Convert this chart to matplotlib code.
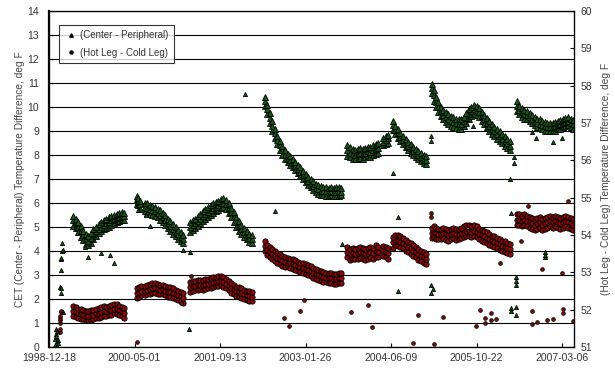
import numpy as np
import matplotlib

matplotlib.use("Agg")
import matplotlib.pyplot as plt
import matplotlib.dates as mdates

plt.rcParams["font.family"] = ["Liberation Sans", "DejaVu Sans"]

# ---------------------------------------------------------------------------
# Data.  x = days after 1998-12-18.
# CET (Center - Peripheral) on the left axis, Hot-Cold on the right axis.
# Each band is given as lower edge / middle / upper edge of the point cloud.
# ---------------------------------------------------------------------------
START = np.datetime64("1998-12-18")
X_SPAN = 3070
TICK_DAYS = [0, 500, 1000, 1500, 2000, 2500, 3000]

cet_days = [
    # 1999 - 2000
    140, 155, 170, 185, 200, 215, 230, 245, 260, 275, 290, 305, 320, 335, 350,
    365, 380, 395, 410, 425, 440,
    # 2000-05 .. 2000-11
    512, 520, 530, 560, 575, 590, 605, 620, 635, 650, 665, 680, 695, 710, 725,
    740, 755, 770, 785,
    # 2001
    825, 840, 855, 870, 885, 900, 915, 930, 945, 960, 975, 990, 1005, 1020,
    1035, 1050, 1065, 1080, 1095, 1110, 1125, 1140, 1155, 1170, 1185,
    # 2002 - 2003 decay
    1263, 1275, 1290, 1305, 1320, 1335, 1350, 1365, 1380, 1395, 1410, 1425,
    1440, 1455, 1470, 1485, 1500, 1515, 1530, 1545, 1560, 1575, 1590, 1605,
    1620, 1635, 1650, 1665, 1680, 1695, 1710,
    # 2003-11 .. 2004-06
    1745, 1760, 1775, 1790, 1805, 1820, 1835, 1850, 1865, 1880, 1895, 1910,
    1925, 1955, 1968, 1982,
    # 2004-07 .. 2005-01
    2012, 2025, 2040, 2055, 2070, 2085, 2100, 2115, 2130, 2145, 2160, 2175,
    2190, 2205,
    # 2005 - 2006
    2238, 2250, 2262, 2275, 2290, 2305, 2320, 2335, 2350, 2365, 2380, 2395,
    2410, 2425, 2440, 2455, 2470, 2485, 2500, 2515, 2530, 2545, 2560, 2575,
    2590, 2605, 2620, 2635, 2650, 2665, 2680, 2695,
    # 2006 - 2007
    2737, 2750, 2765, 2780, 2795, 2810, 2825, 2840, 2855, 2870, 2885, 2900,
    2915, 2930, 2945, 2960, 2975, 2990, 3005, 3020, 3035, 3050, 3064,
]
cet_mid = [
    5.30, 5.15, 5.00, 4.85, 4.65, 4.50, 4.42, 4.55, 4.70, 4.82, 4.92, 5.02, 5.08, 5.15, 5.20,
    5.28, 5.32, 5.38, 5.42, 5.45, 5.45,
    6.15, 6.05, 5.95, 5.85, 5.80, 5.75, 5.70, 5.65, 5.58, 5.50, 5.40, 5.28, 5.15, 5.05, 4.92,
    4.80, 4.70, 4.60, 4.48,
    5.00, 5.08, 5.15, 5.25, 5.35, 5.45, 5.55, 5.62, 5.70, 5.78, 5.85, 5.92, 5.98, 6.02,
    5.95, 5.80, 5.62, 5.42, 5.22, 5.05, 4.90, 4.78, 4.65, 4.55, 4.48,
    10.25, 9.90, 9.55, 9.20, 8.90, 8.62, 8.40, 8.20, 8.02, 7.88, 7.78, 7.68,
    7.55, 7.42, 7.30, 7.18, 7.05, 6.92, 6.82, 6.72, 6.62, 6.58, 6.52, 6.50,
    6.48, 6.45, 6.48, 6.46, 6.45, 6.48, 6.46,
    8.20, 8.10, 8.05, 8.00, 8.05, 8.08, 8.05, 8.10, 8.15, 8.12, 8.20, 8.25,
    8.30, 8.55, 8.62, 8.70,
    9.25, 9.05, 8.90, 8.75, 8.62, 8.50, 8.38, 8.28, 8.18, 8.08, 8.00, 7.92,
    7.85, 7.78,
    10.80, 10.50, 10.22, 10.00, 9.82, 9.68, 9.58, 9.50, 9.42, 9.38, 9.32, 9.28,
    9.30, 9.40, 9.55, 9.70, 9.82, 9.90, 9.88, 9.78, 9.62, 9.48, 9.35, 9.20,
    9.08, 8.98, 8.88, 8.78, 8.68, 8.58, 8.48, 8.38,
    10.05, 9.88, 9.78, 9.70, 9.65, 9.58, 9.50, 9.42, 9.35, 9.30, 9.25, 9.20,
    9.18, 9.15, 9.18, 9.20, 9.25, 9.28, 9.32, 9.38, 9.42, 9.35, 9.28,
]
cet_lo = [
    5.05, 4.95, 4.80, 4.60, 4.45, 4.30, 4.25, 4.35, 4.50, 4.62, 4.75, 4.85, 4.90, 4.95, 5.00,
    5.10, 5.15, 5.20, 5.25, 5.28, 5.30,
    5.95, 5.90, 5.75, 5.65, 5.60, 5.55, 5.52, 5.45, 5.40, 5.30, 5.20, 5.10, 4.95, 4.85, 4.72,
    4.62, 4.52, 4.42, 4.32,
    4.80, 4.88, 4.95, 5.05, 5.15, 5.25, 5.35, 5.42, 5.50, 5.58, 5.65, 5.72, 5.78, 5.82,
    5.75, 5.60, 5.42, 5.22, 5.02, 4.85, 4.70, 4.60, 4.48, 4.38, 4.32,
    10.05, 9.70, 9.35, 9.00, 8.72, 8.45, 8.22, 8.02, 7.85, 7.72, 7.60, 7.50,
    7.38, 7.25, 7.12, 7.00, 6.88, 6.75, 6.65, 6.55, 6.45, 6.38, 6.35, 6.32,
    6.28, 6.30, 6.32, 6.28, 6.30, 6.30, 6.32,
    7.95, 7.90, 7.85, 7.82, 7.85, 7.88, 7.85, 7.90, 7.95, 7.92, 8.00, 8.05,
    8.10, 8.40, 8.45, 8.52,
    9.05, 8.88, 8.72, 8.58, 8.45, 8.32, 8.20, 8.10, 8.00, 7.90, 7.82, 7.75,
    7.68, 7.62,
    10.60, 10.25, 10.00, 9.80, 9.62, 9.48, 9.38, 9.30, 9.22, 9.18, 9.12, 9.08,
    9.10, 9.20, 9.35, 9.50, 9.62, 9.70, 9.68, 9.58, 9.42, 9.28, 9.15, 9.00,
    8.88, 8.78, 8.68, 8.58, 8.48, 8.38, 8.28, 8.20,
    9.85, 9.70, 9.60, 9.52, 9.48, 9.40, 9.32, 9.25, 9.18, 9.12, 9.08, 9.02,
    9.00, 8.98, 9.00, 9.02, 9.08, 9.10, 9.15, 9.20, 9.25, 9.18, 9.10,
]
cet_hi = [
    5.45, 5.35, 5.20, 5.05, 4.85, 4.70, 4.62, 4.75, 4.90, 5.02, 5.12, 5.20, 5.28, 5.35, 5.40,
    5.45, 5.50, 5.55, 5.60, 5.62, 5.60,
    6.30, 6.22, 6.10, 6.02, 5.98, 5.92, 5.88, 5.82, 5.75, 5.70, 5.60, 5.48, 5.35, 5.25, 5.12,
    5.00, 4.88, 4.78, 4.65,
    5.20, 5.28, 5.35, 5.45, 5.55, 5.65, 5.75, 5.82, 5.90, 5.98, 6.05, 6.10, 6.15, 6.20,
    6.12, 5.98, 5.80, 5.62, 5.42, 5.25, 5.10, 4.95, 4.82, 4.72, 4.65,
    10.40, 10.10, 9.75, 9.40, 9.08, 8.80, 8.58, 8.38, 8.20, 8.05, 7.95, 7.85,
    7.72, 7.60, 7.48, 7.35, 7.22, 7.10, 7.00, 6.90, 6.80, 6.75, 6.70, 6.68,
    6.65, 6.62, 6.65, 6.62, 6.65, 6.65, 6.62,
    8.40, 8.32, 8.25, 8.20, 8.25, 8.28, 8.25, 8.30, 8.35, 8.32, 8.40, 8.45,
    8.48, 8.72, 8.78, 8.85,
    9.40, 9.22, 9.08, 8.92, 8.80, 8.68, 8.55, 8.45, 8.35, 8.25, 8.18, 8.10,
    8.02, 7.95,
    10.95, 10.70, 10.42, 10.20, 10.02, 9.88, 9.78, 9.70, 9.62, 9.58, 9.52, 9.48,
    9.50, 9.60, 9.75, 9.90, 10.00, 10.08, 10.05, 9.95, 9.80, 9.68, 9.55, 9.40,
    9.28, 9.18, 9.08, 8.98, 8.88, 8.78, 8.68, 8.58,
    10.25, 10.05, 9.95, 9.88, 9.82, 9.75, 9.68, 9.60, 9.52, 9.48, 9.42, 9.38,
    9.35, 9.32, 9.35, 9.38, 9.42, 9.45, 9.50, 9.55, 9.60, 9.52, 9.45,
]

# scattered CET points (start-up, outages)
cet_out_days = [35, 37, 39, 41, 43, 45, 47, 49, 51, 53, 66, 68, 70, 70, 72, 73,
                76, 78, 80, 82, 210, 228, 304, 357, 380, 520, 567, 590, 784,
                825, 819, 1146, 1322, 1713, 2012, 2041, 2041, 2234, 2236, 2234,
                2234, 2246, 2480, 2696, 2702, 2720, 2722, 2731, 2731, 2731,
                2731, 2731, 2702, 2702, 2900, 2900, 2902, 2825, 2848, 2945, 2998]
cet_out_vals = [0.10, 0.35, 0.55, 0.75, 0.45, 0.25, 0.65, 0.05, 0.30, 0.15, 2.50,
                2.45, 2.25, 3.20, 3.65, 3.70, 4.00, 4.35, 1.45, 4.05, 4.17, 3.75,
                3.90, 3.83, 3.50, 5.70, 5.50, 5.05, 4.05, 3.95, 0.75, 10.55,
                5.67, 4.30, 7.25, 5.40, 2.35, 8.60, 8.80, 2.60, 2.25, 2.40,
                9.20, 7.00, 5.58, 7.90, 7.65, 2.60, 2.75, 2.90, 1.65, 1.33,
                1.62, 1.48, 3.75, 3.85, 3.95, 8.95, 8.72, 8.55, 8.72]

hot_days = [
    140, 155, 170, 185, 200, 215, 230, 245, 260, 275, 290, 305, 320, 335, 350,
    365, 380, 395, 410, 425, 440,
    512, 525, 540, 560, 575, 590, 605, 620, 635, 650, 665, 680, 695, 710, 725,
    740, 755, 770, 785,
    825, 840, 855, 870, 885, 900, 915, 930, 945, 960, 975, 990, 1005, 1020,
    1035, 1050, 1065, 1080, 1095, 1110, 1125, 1140, 1155, 1170, 1185,
    1263, 1275, 1290, 1305, 1320, 1335, 1350, 1365, 1380, 1395, 1410, 1425,
    1440, 1455, 1470, 1485, 1500, 1515, 1530, 1545, 1560, 1575, 1590, 1605,
    1620, 1635, 1650, 1665, 1680, 1695, 1710,
    1745, 1760, 1775, 1790, 1805, 1820, 1835, 1850, 1865, 1880, 1895, 1910,
    1925, 1955, 1968, 1982,
    2012, 2025, 2040, 2055, 2070, 2085, 2100, 2115, 2130, 2145, 2160, 2175,
    2190, 2205,
    2238, 2250, 2262, 2275, 2290, 2305, 2320, 2335, 2350, 2365, 2380, 2395,
    2410, 2425, 2440, 2455, 2470, 2485, 2500, 2515, 2530, 2545, 2560, 2575,
    2590, 2605, 2620, 2635, 2650, 2665, 2680, 2695,
    2737, 2750, 2765, 2780, 2795, 2810, 2825, 2840, 2855, 2870, 2885, 2900,
    2915, 2930, 2945, 2960, 2975, 2990, 3005, 3020, 3035, 3050, 3064,
]
hot_mid = [
    51.96, 51.93, 51.90, 51.89, 51.87, 51.84, 51.84, 51.85, 51.87, 51.90, 51.91,
    51.93, 51.96, 51.96, 51.98, 52.00, 52.03, 52.02, 51.98, 51.95, 51.91,
    52.45, 52.48, 52.51, 52.51, 52.54, 52.56, 52.58, 52.58, 52.56, 52.54, 52.54,
    52.51, 52.48, 52.47, 52.45, 52.41, 52.38, 52.35, 52.32,
    52.61, 52.64, 52.64, 52.66, 52.67, 52.67, 52.68, 52.70, 52.72, 52.74, 52.75,
    52.77, 52.77, 52.75, 52.70, 52.64, 52.58, 52.53, 52.49, 52.47, 52.45, 52.41,
    52.38, 52.36, 52.34,
    53.70, 53.60, 53.54, 53.49, 53.44, 53.39, 53.35, 53.31, 53.28, 53.26, 53.24,
    53.22, 53.19, 53.16, 53.13, 53.11, 53.09, 53.06, 53.03, 52.99, 52.96, 52.93,
    52.90, 52.88, 52.86, 52.85, 52.84, 52.83, 52.83, 52.84, 52.85,
    53.54, 53.48, 53.51, 53.48, 53.51, 53.54, 53.51, 53.48, 53.51, 53.54, 53.51,
    53.57, 53.54, 53.57, 53.54, 53.51,
    53.80, 53.86, 53.85, 53.82, 53.78, 53.72, 53.68, 53.64, 53.58, 53.54, 53.48,
    53.44, 53.40, 53.36,
    54.05, 54.09, 54.05, 54.02, 54.02, 54.05, 54.02, 53.99, 54.02, 54.05, 54.02,
    54.02, 54.05, 54.09, 54.12, 54.12, 54.09, 54.12, 54.09, 54.03, 53.99, 53.96,
    53.93, 53.88, 53.84, 53.82, 53.78, 53.75, 53.71, 53.69, 53.65, 53.62,
    54.41, 54.41, 54.38, 54.41, 54.38, 54.34, 54.31, 54.28, 54.31, 54.34, 54.28,
    54.31, 54.34, 54.38, 54.34, 54.38, 54.34, 54.31, 54.34, 54.38, 54.34, 54.31,
    54.28,
]
hot_lo = [
    51.83, 51.80, 51.78, 51.76, 51.74, 51.71, 51.72, 51.73, 51.75, 51.77, 51.79,
    51.81, 51.83, 51.84, 51.85, 51.87, 51.90, 51.89, 51.85, 51.82, 51.78,
    52.32, 52.35, 52.38, 52.38, 52.41, 52.43, 52.45, 52.45, 52.43, 52.41, 52.41,
    52.38, 52.35, 52.34, 52.32, 52.28, 52.25, 52.22, 52.19,
    52.48, 52.51, 52.52, 52.53, 52.55, 52.54, 52.56, 52.58, 52.59, 52.61, 52.63,
    52.64, 52.65, 52.62, 52.58, 52.52, 52.45, 52.41, 52.37, 52.34, 52.32, 52.29,
    52.26, 52.24, 52.22,
    53.57, 53.47, 53.41, 53.36, 53.31, 53.26, 53.22, 53.18, 53.15, 53.13, 53.11,
    53.09, 53.06, 53.03, 53.00, 52.98, 52.96, 52.93, 52.90, 52.86, 52.83, 52.80,
    52.77, 52.75, 52.73, 52.72, 52.71, 52.70, 52.70, 52.71, 52.72,
    53.40, 53.34, 53.36, 53.35, 53.37, 53.39, 53.36, 53.34, 53.37, 53.40, 53.36,
    53.42, 53.40, 53.43, 53.40, 53.37,
    53.66, 53.72, 53.71, 53.68, 53.64, 53.58, 53.54, 53.50, 53.44, 53.40, 53.34,
    53.30, 53.26, 53.22,
    53.91, 53.95, 53.90, 53.88, 53.88, 53.91, 53.87, 53.85, 53.88, 53.91, 53.87,
    53.88, 53.91, 53.95, 53.98, 53.97, 53.95, 53.98, 53.94, 53.89, 53.85, 53.82,
    53.79, 53.74, 53.70, 53.68, 53.64, 53.61, 53.57, 53.55, 53.51, 53.48,
    54.27, 54.26, 54.24, 54.27, 54.24, 54.20, 54.17, 54.14, 54.17, 54.20, 54.14,
    54.17, 54.20, 54.24, 54.20, 54.24, 54.20, 54.17, 54.20, 54.24, 54.20, 54.17,
    54.14,
]
hot_hi = [
    52.09, 52.06, 52.03, 52.02, 52.00, 51.97, 51.96, 51.98, 52.00, 52.03, 52.04,
    52.06, 52.09, 52.08, 52.11, 52.13, 52.16, 52.15, 52.11, 52.08, 52.04,
    52.58, 52.61, 52.64, 52.64, 52.67, 52.69, 52.71, 52.71, 52.69, 52.67, 52.67,
    52.64, 52.61, 52.60, 52.58, 52.54, 52.51, 52.48, 52.45,
    52.74, 52.77, 52.77, 52.79, 52.80, 52.80, 52.81, 52.83, 52.85, 52.87, 52.88,
    52.90, 52.90, 52.88, 52.83, 52.77, 52.71, 52.66, 52.62, 52.60, 52.58, 52.54,
    52.51, 52.49, 52.47,
    53.83, 53.73, 53.67, 53.62, 53.57, 53.52, 53.48, 53.44, 53.41, 53.39, 53.37,
    53.35, 53.32, 53.29, 53.26, 53.24, 53.22, 53.19, 53.16, 53.12, 53.09, 53.06,
    53.03, 53.01, 52.99, 52.98, 52.97, 52.96, 52.96, 52.97, 52.98,
    53.68, 53.62, 53.66, 53.62, 53.65, 53.69, 53.66, 53.62, 53.65, 53.68, 53.66,
    53.72, 53.68, 53.70, 53.68, 53.65,
    53.94, 54.00, 53.99, 53.96, 53.92, 53.86, 53.82, 53.78, 53.72, 53.68, 53.62,
    53.58, 53.54, 53.50,
    54.19, 54.23, 54.19, 54.16, 54.15, 54.19, 54.16, 54.13, 54.16, 54.19, 54.16,
    54.15, 54.19, 54.23, 54.26, 54.26, 54.23, 54.26, 54.23, 54.17, 54.13, 54.10,
    54.07, 54.02, 53.98, 53.96, 53.92, 53.89, 53.85, 53.83, 53.79, 53.76,
    54.55, 54.56, 54.52, 54.55, 54.52, 54.48, 54.45, 54.42, 54.45, 54.48, 54.42,
    54.45, 54.48, 54.52, 54.48, 54.52, 54.48, 54.45, 54.48, 54.52, 54.48, 54.45,
    54.42,
]

hot_out_days = [61, 62, 63, 64, 65, 66, 67, 68, 70, 515, 774, 832, 1374, 1404,
                1468, 1491, 1766, 1866, 1889, 2158, 2304, 2129, 2251, 2497,
                2520, 2550, 2550, 2585, 2585, 2614, 2825, 2825, 2854, 2912,
                2947, 3006, 3006, 3064, 2637, 2883, 3000, 2801, 2760, 3035,
                2234, 2234]
hot_out_vals = [51.40, 51.39, 51.48, 51.64, 51.71, 51.77, 51.84, 51.93, 51.96,
                51.13, 52.18, 52.90, 51.77, 51.55, 51.96, 52.25, 51.93, 52.13,
                51.53, 51.86, 51.80, 51.11, 51.08, 51.57, 51.99, 51.64, 51.77,
                51.71, 51.90, 51.75, 51.96, 51.62, 51.67, 51.71, 51.74, 51.90,
                52.03, 51.69, 53.25, 53.09, 52.98, 54.79, 53.83, 54.92, 54.47,
                54.60]


def to_dates(days):
    return START + np.array(days).astype("timedelta64[D]")


def tri(size):
    return dict(marker="^", linestyle="none", markersize=size,
                markerfacecolor="#175817", markeredgecolor="black",
                markeredgewidth=0.6)


def dot(size):
    return dict(marker="o", linestyle="none", markersize=size,
                markerfacecolor="#8a0a0a", markeredgecolor="black",
                markeredgewidth=0.6)


fig = plt.figure(figsize=(6.15, 3.68), dpi=100)
ax = fig.add_axes([49 / 615, 21 / 368, 525 / 615, 336 / 368])
ax2 = ax.twinx()

cet_x = to_dates(cet_days)
for vals in (cet_lo, cet_mid, cet_hi):
    ax.plot(cet_x, vals, **tri(4.2))
ax.plot(to_dates(cet_out_days), cet_out_vals, **tri(3.0))

hot_x = to_dates(hot_days)
for vals in (hot_lo, hot_mid, hot_hi):
    ax2.plot(hot_x, vals, **dot(3.8))
ax2.plot(to_dates(hot_out_days), hot_out_vals, **dot(2.6))

ax.set_xlim(START, START + np.timedelta64(X_SPAN, "D"))
ax.set_ylim(0, 14)
ax2.set_ylim(51, 60)
ax.set_yticks(range(0, 15))
ax2.set_yticks(range(51, 61))
ax.set_xticks(to_dates(TICK_DAYS))
ax.xaxis.set_major_formatter(mdates.DateFormatter("%Y-%m-%d"))

ax.yaxis.grid(True, color="black", linewidth=0.8)
ax.set_axisbelow(True)

label_col = "#333333"
ax.tick_params(axis="x", direction="in", length=3, pad=4, labelsize=7.5,
               labelcolor=label_col)
ax.tick_params(axis="y", direction="in", length=3, pad=7, labelsize=7.5,
               labelcolor=label_col)
ax2.tick_params(axis="y", direction="in", length=3, pad=5, labelsize=7.5,
                labelcolor=label_col)
for sp in ax2.spines.values():
    sp.set_linewidth(0.9)
ax2.spines["left"].set_linewidth(1.6)

ax.set_ylabel("CET (Center - Peripheral) Temperature Difference, deg F",
              fontsize=7.3, color="#444444")
ax2.set_ylabel("(Hot Leg - Cold Leg) Temperature Difference, deg F",
               fontsize=7.3, color="#444444")
ax.yaxis.set_label_coords(-0.046, 0.5)
ax2.yaxis.set_label_coords(1.051, 0.5)

h_tri = plt.Line2D([], [], marker="^", linestyle="none", markersize=2.5,
                   color="black")
h_dot = plt.Line2D([], [], marker="o", linestyle="none", markersize=2.2,
                   color="black")
leg = ax2.legend([h_tri, h_dot], ["(Center - Peripheral)", "(Hot Leg - Cold Leg)"],
                 loc="upper left", bbox_to_anchor=(0.019, 0.958), borderaxespad=0,
                 fontsize=7, frameon=True, fancybox=False, edgecolor="black",
                 handletextpad=0.2, handlelength=1.4, borderpad=0.55,
                 labelspacing=0.75)
leg.get_frame().set_linewidth(0.8)
for t in leg.get_texts():
    t.set_color("#333333")

fig.savefig("out.png", dpi=100)
